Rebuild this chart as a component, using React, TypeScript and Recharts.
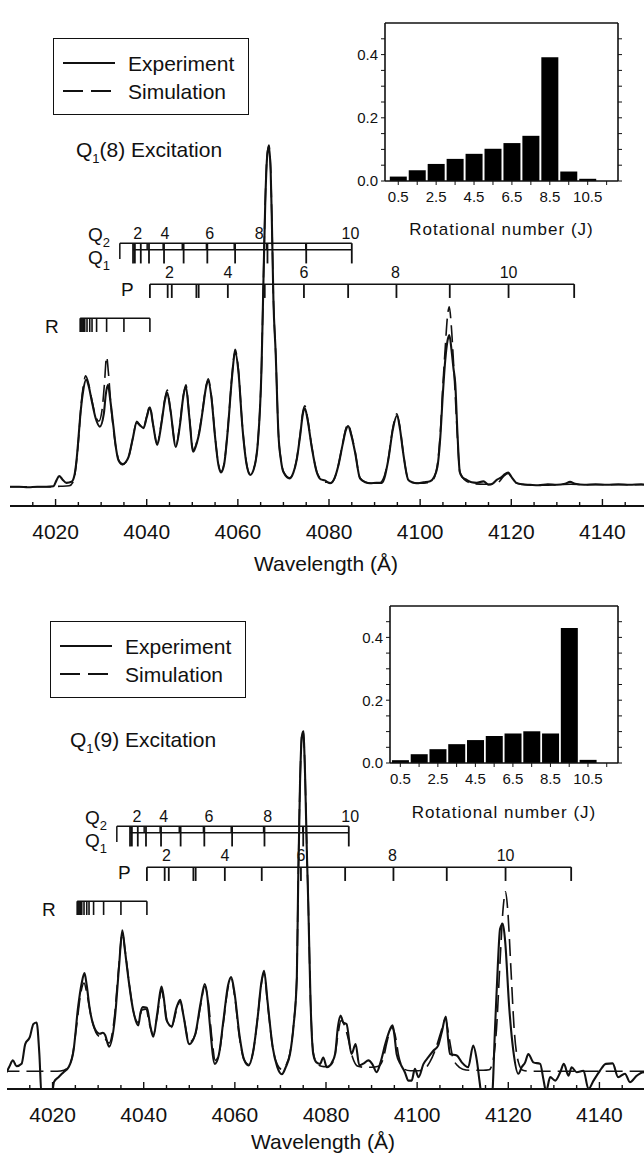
import React from "react";
import {
  LineChart, Line, XAxis, YAxis, ReferenceLine, ReferenceDot,
  BarChart, Bar,
} from "recharts";

const FONT = '"Liberation Sans", Arial, Helvetica, sans-serif';
const INK = "#111";

// wavelength axis (Å)
const WL_TICKS = [
  4015, 4020, 4025, 4030, 4035, 4040, 4045, 4050, 4055, 4060, 4065, 4070, 4075, 4080,
  4085, 4090, 4095, 4100, 4105, 4110, 4115, 4120, 4125, 4130, 4135, 4140, 4145,
];
const WL_LABELS = [4020, 4040, 4060, 4080, 4100, 4120, 4140];

// spectra: [wavelength, intensity]
const EXP_Q8: [number, number][] = [
  [4010, 3.9], [4012, 3.9], [4014, 3.8], [4016, 3.9], [4018, 3.9], [4019.5, 4.0], [4020.2, 5.2],
  [4020.8, 6.1], [4021.5, 5.4], [4022.4, 4.7], [4023.5, 4.9], [4024.2, 6.5], [4024.6, 9.3],
  [4025.0, 13.5], [4025.4, 18.1], [4026.0, 23.0], [4026.7, 25.6], [4027.3, 24.2], [4027.9, 21.5],
  [4028.8, 17.8], [4029.7, 16.1], [4030.6, 18.8], [4031.0, 22.5], [4031.5, 24.6], [4032.0, 21.5],
  [4032.7, 16.1], [4033.3, 11.5], [4033.8, 9.3], [4034.7, 8.5], [4035.4, 8.9], [4036.0, 9.9],
  [4036.9, 13.5], [4037.8, 16.9], [4038.6, 16.3], [4039.3, 15.8], [4040.0, 18.0], [4040.7, 20.0],
  [4041.4, 16.5], [4042.3, 12.4], [4043.2, 16.5], [4044.0, 21.5], [4044.5, 23.0], [4045.2, 19.5],
  [4046.4, 12.0], [4047.3, 16.5], [4048.0, 22.0], [4048.6, 24.2], [4049.3, 18.5], [4050.2, 11.0],
  [4051.0, 12.8], [4051.5, 14.7], [4052.3, 19.5], [4053.0, 24.0], [4053.5, 25.4], [4054.2, 22.0],
  [4055.0, 14.0], [4055.7, 8.5], [4056.3, 6.8], [4057.0, 8.5], [4057.8, 15.5], [4058.7, 26.0],
  [4059.4, 31.3], [4060.1, 27.5], [4061.0, 16.0], [4061.9, 8.5], [4062.7, 6.3], [4063.5, 7.5],
  [4064.4, 13.0], [4065.2, 28.3], [4065.6, 45.0], [4066.0, 61.0], [4066.4, 70.5], [4066.8, 72.9],
  [4067.2, 68.0], [4067.5, 56.0], [4067.8, 42.0], [4068.3, 31.0], [4068.9, 14.7], [4069.5, 9.0],
  [4070.0, 6.9], [4071.4, 5.6], [4072.2, 6.8], [4072.9, 9.3], [4073.7, 14.5], [4074.2, 18.3],
  [4074.7, 19.8], [4075.3, 17.5], [4076.2, 12.0], [4077.3, 6.9], [4078.2, 5.4], [4079.1, 5.2],
  [4080.2, 4.6], [4081.2, 5.6], [4082.0, 8.0], [4083.0, 12.5], [4083.7, 15.4], [4084.2, 16.2],
  [4084.9, 14.3], [4085.7, 11.0], [4086.8, 5.6], [4088.0, 4.8], [4089.0, 4.6], [4090.4, 4.7],
  [4091.6, 4.7], [4093.0, 9.3], [4094.0, 15.5], [4094.9, 18.3], [4095.6, 15.5], [4096.2, 11.3],
  [4097.4, 5.3], [4098.3, 4.8], [4099.2, 4.6], [4100.7, 4.8], [4102.2, 5.0], [4103.0, 5.8],
  [4103.8, 8.0], [4104.5, 15.0], [4104.9, 21.5], [4105.5, 29.5], [4106.0, 33.5], [4106.4, 34.7],
  [4106.9, 31.5], [4107.3, 28.0], [4107.7, 24.9], [4108.2, 14.5], [4108.7, 6.9], [4109.3, 5.8],
  [4110.2, 5.3], [4111.3, 4.8], [4112.4, 4.7], [4113.9, 5.0], [4115.0, 4.3], [4116.0, 4.6],
  [4116.8, 5.3], [4117.8, 5.8], [4118.5, 6.4], [4119.3, 6.8], [4120.1, 5.8], [4121.1, 4.7],
  [4122.5, 4.4], [4124.1, 4.3], [4126.0, 4.2], [4128.0, 4.4], [4130.0, 4.3], [4131.8, 4.5],
  [4132.9, 4.9], [4134.0, 4.5], [4136.0, 4.3], [4138.5, 4.4], [4141.0, 4.3], [4143.5, 4.4],
  [4146.0, 4.3], [4148.5, 4.4], [4150, 4.3],
];

const SIM_Q8: [number, number][] = [
  [4010, 3.9], [4014, 3.9], [4018, 3.9], [4021, 4.0], [4023.0, 4.1], [4023.8, 4.8], [4024.4, 7.5],
  [4025.0, 13.0], [4025.6, 20.5], [4026.2, 25.0], [4026.6, 26.4], [4027.2, 25.0], [4027.9, 21.8],
  [4028.8, 18.2], [4029.5, 17.2], [4030.2, 19.5], [4030.7, 24.5], [4031.2, 30.3], [4031.6, 27.0],
  [4032.1, 21.0], [4032.7, 15.5], [4033.4, 11.0], [4034.0, 9.0], [4034.7, 8.4], [4035.5, 9.0],
  [4036.2, 10.5], [4037.0, 14.0], [4037.8, 17.2], [4038.7, 16.2], [4039.3, 15.9], [4040.0, 18.2],
  [4040.7, 20.3], [4041.4, 16.5], [4042.3, 12.7], [4043.2, 16.8], [4044.0, 21.8], [4044.5, 23.5],
  [4045.2, 19.5], [4046.4, 12.3], [4047.3, 16.8], [4048.0, 22.3], [4048.6, 24.6], [4049.3, 18.8],
  [4050.2, 11.3], [4051.0, 13.0], [4051.5, 15.0], [4052.3, 19.8], [4053.0, 24.3], [4053.5, 25.8],
  [4054.2, 22.3], [4055.0, 14.2], [4055.7, 8.7], [4056.3, 7.0], [4057.0, 8.7], [4057.8, 15.8],
  [4058.7, 26.3], [4059.4, 31.8], [4060.1, 27.8], [4061.0, 16.2], [4061.9, 8.7], [4062.7, 6.5],
  [4063.5, 7.6], [4064.4, 13.2], [4065.2, 28.6], [4065.6, 45.5], [4066.0, 61.5], [4066.4, 71.0],
  [4066.8, 73.2], [4067.2, 68.3], [4067.5, 56.5], [4067.8, 42.2], [4068.3, 31.2], [4068.9, 14.8],
  [4069.5, 9.2], [4070.0, 7.0], [4071.4, 5.7], [4072.2, 6.9], [4072.9, 9.5], [4073.7, 14.8],
  [4074.2, 18.8], [4074.7, 20.3], [4075.3, 17.8], [4076.2, 12.2], [4077.3, 7.0], [4078.2, 5.5],
  [4079.5, 4.8], [4080.5, 4.7], [4081.2, 5.6], [4082.0, 8.1], [4083.0, 12.7], [4083.7, 15.7],
  [4084.2, 16.6], [4084.9, 14.6], [4085.7, 11.2], [4086.8, 5.7], [4088.0, 4.8], [4089.5, 4.6],
  [4091.0, 4.6], [4091.9, 5.5], [4093.0, 9.5], [4094.0, 15.8], [4094.9, 18.7], [4095.6, 15.8],
  [4096.2, 11.5], [4097.4, 5.4], [4098.5, 4.7], [4100.0, 4.6], [4101.5, 4.7], [4102.5, 5.0],
  [4103.2, 6.0], [4103.8, 8.5], [4104.5, 16.0], [4104.9, 23.0], [4105.5, 32.0], [4106.0, 38.5],
  [4106.4, 40.4], [4106.8, 37.0], [4107.3, 29.5], [4107.7, 22.5], [4108.2, 13.5], [4108.7, 7.0],
  [4109.3, 5.8], [4110.2, 5.0], [4112.0, 4.5], [4114.0, 4.4], [4116.0, 4.4], [4117.2, 4.8],
  [4118.3, 6.0], [4119.3, 6.6], [4120.2, 5.6], [4121.2, 4.6], [4123.0, 4.3], [4126.0, 4.2],
  [4130.0, 4.3], [4133.0, 4.4], [4137.0, 4.3], [4142.0, 4.3], [4146.0, 4.3], [4150, 4.3],
];

const EXP_Q9: [number, number][] = [
  [4009.9, 3.4], [4010.5, 4.5], [4011.3, 5.8], [4012.1, 4.6], [4013.2, 5.1], [4014.0, 9.1],
  [4015.0, 10.5], [4015.8, 13.2], [4016.5, 13.5], [4017.1, 7.1], [4017.6, -1.5], [4019.8, -1.5],
  [4020.3, 1.4], [4021.3, 2.4], [4022.4, 3.4], [4023.5, 4.4], [4024.6, 7.8], [4025.6, 16.6],
  [4026.4, 21.5], [4027.0, 23.5], [4027.5, 21.0], [4028.1, 16.6], [4029.3, 12.2], [4030.4, 11.2],
  [4031.0, 11.4], [4031.5, 11.0], [4032.4, 8.6], [4033.7, 14.6], [4034.6, 25.0], [4035.3, 32.2],
  [4035.9, 28.0], [4036.6, 22.7], [4037.7, 15.9], [4038.8, 12.9], [4039.3, 15.5], [4039.8, 16.6],
  [4040.7, 16.5], [4041.4, 13.0], [4042.1, 10.6], [4043.0, 15.5], [4043.9, 20.8], [4044.4, 18.5],
  [4045.0, 14.0], [4046.1, 12.7], [4047.2, 16.5], [4048.0, 18.1], [4048.7, 15.0], [4050.0, 9.1],
  [4051.3, 11.1], [4052.5, 17.5], [4053.4, 21.3], [4054.0, 18.5], [4054.5, 13.2], [4055.6, 5.1],
  [4056.5, 7.0], [4057.5, 14.0], [4058.5, 21.0], [4059.2, 22.7], [4060.0, 19.0], [4061.0, 11.0],
  [4062.0, 6.0], [4063.0, 4.8], [4064.0, 7.5], [4065.0, 14.5], [4065.8, 21.5], [4066.4, 24.0],
  [4067.2, 17.5], [4068.3, 8.5], [4069.3, 4.5], [4070.3, 3.0], [4071.2, 4.5], [4072.1, 7.1],
  [4072.9, 13.0], [4073.6, 22.5], [4073.9, 42.4], [4074.3, 62.0], [4074.7, 71.5], [4075.0, 72.5],
  [4075.4, 64.0], [4075.8, 48.0], [4076.1, 38.0], [4076.6, 18.0], [4077.2, 7.1], [4077.9, 5.4],
  [4078.7, 5.1], [4079.4, 6.4], [4080.2, 4.4], [4081.3, 5.4], [4082.0, 7.1], [4082.6, 12.5],
  [4083.2, 14.9], [4083.8, 13.5], [4084.5, 13.2], [4085.6, 7.1], [4086.5, 9.1], [4087.3, 4.8],
  [4088.3, 5.2], [4089.3, 5.8], [4090.2, 5.0], [4091.1, 3.4], [4092.0, 5.5], [4093.0, 9.1],
  [4093.8, 11.5], [4094.6, 12.9], [4095.0, 11.0], [4095.5, 7.1], [4096.4, 5.0], [4097.3, 3.4],
  [4098.1, 1.7], [4098.8, 1.7], [4099.5, 4.1], [4100.3, 2.4], [4101.4, 5.1], [4102.5, 6.5],
  [4103.6, 7.8], [4104.6, 8.8], [4105.4, 11.5], [4106.3, 14.7], [4106.8, 10.0], [4107.2, 7.1],
  [4108.7, 6.8], [4109.8, 5.4], [4111.2, 4.4], [4112.3, 8.8], [4113.1, 5.8], [4113.7, 1.5],
  [4114.2, -1.5], [4116.4, -1.5], [4117.1, 12.5], [4117.7, 25.0], [4118.2, 32.5], [4118.8, 33.5],
  [4119.3, 30.1], [4120.2, 16.6], [4121.1, 7.8], [4122.2, 3.1], [4123.0, 4.5], [4123.7, 5.4],
  [4124.4, 7.1], [4125.5, 5.4], [4127.0, 5.1], [4127.7, 2.0], [4128.3, -0.5], [4129.2, 2.4],
  [4130.3, 1.7], [4131.4, 3.4], [4132.2, 5.1], [4133.2, 2.7], [4133.9, 4.4], [4135.0, 3.4],
  [4136.5, 3.7], [4137.6, 0], [4138.7, 1.7], [4140.1, 3.7], [4141.4, 5.1], [4142.9, 5.2],
  [4144.1, 2.4], [4145.6, 3.1], [4146.7, 1.4], [4148.2, 2.7], [4149.6, 3.4], [4150.5, 3.0],
];

const SIM_Q9: [number, number][] = [
  [4009, 3.6], [4013, 3.6], [4017, 3.6], [4021, 3.6], [4022.5, 3.8], [4023.5, 4.6], [4024.3, 6.5],
  [4025.3, 13.0], [4026.2, 19.5], [4026.9, 21.5], [4027.6, 19.0], [4028.5, 14.5], [4029.5, 11.5],
  [4030.5, 10.5], [4031.5, 10.2], [4032.4, 9.3], [4033.5, 14.0], [4034.5, 24.5], [4035.3, 31.5],
  [4036.0, 27.5], [4036.8, 21.5], [4037.8, 15.5], [4038.8, 13.5], [4039.6, 16.0], [4040.5, 16.2],
  [4041.3, 13.0], [4042.1, 11.0], [4043.0, 15.0], [4043.9, 20.0], [4044.5, 17.5], [4045.2, 13.5],
  [4046.1, 12.5], [4047.2, 16.0], [4048.0, 17.8], [4048.8, 14.5], [4050.0, 9.5], [4051.3, 11.0],
  [4052.5, 17.0], [4053.4, 20.8], [4054.2, 17.5], [4055.0, 10.0], [4055.7, 5.8], [4056.5, 7.0],
  [4057.5, 13.5], [4058.5, 20.5], [4059.2, 22.3], [4060.0, 18.5], [4061.0, 10.5], [4062.0, 6.0],
  [4063.0, 5.0], [4064.0, 7.5], [4065.0, 14.5], [4065.8, 21.2], [4066.4, 23.5], [4067.2, 17.0],
  [4068.3, 8.5], [4069.3, 5.0], [4070.3, 4.0], [4071.2, 4.8], [4072.1, 7.3], [4072.9, 13.2],
  [4073.6, 22.8], [4073.9, 42.6], [4074.3, 62.3], [4074.7, 71.8], [4075.0, 72.7], [4075.4, 64.3],
  [4075.8, 48.3], [4076.1, 38.2], [4076.6, 18.2], [4077.2, 7.5], [4078.0, 5.2], [4079.0, 4.6],
  [4080.0, 4.5], [4081.2, 5.0], [4082.0, 7.0], [4082.7, 11.5], [4083.3, 13.9], [4084.0, 13.0],
  [4084.8, 10.5], [4085.8, 6.5], [4087.0, 4.6], [4088.5, 4.4], [4090.0, 4.4], [4091.5, 4.6],
  [4092.5, 6.0], [4093.5, 10.0], [4094.4, 12.5], [4095.2, 10.8], [4096.0, 6.5], [4097.2, 4.0],
  [4098.5, 3.7], [4100.0, 3.7], [4101.5, 4.0], [4102.8, 5.5], [4104.0, 8.0], [4105.2, 11.5],
  [4106.2, 14.2], [4107.0, 10.5], [4107.8, 6.5], [4108.8, 4.8], [4110.0, 4.0], [4111.5, 3.8],
  [4113.0, 3.8], [4114.5, 3.8], [4115.8, 3.9], [4116.6, 5.5], [4117.4, 12.0], [4118.2, 26.0],
  [4118.9, 37.0], [4119.4, 40.0], [4119.9, 36.0], [4120.6, 24.0], [4121.3, 12.0], [4122.2, 5.5],
  [4123.2, 3.8], [4125.0, 3.6], [4130, 3.6], [4135, 3.6], [4140, 3.6], [4145, 3.6], [4150.5, 3.6],
];

// branch assignments (Å)
const Q1_LINES = [4037.0, 4037.4, 4038.7, 4040.5, 4043.8, 4048.1, 4053.3, 4059.4, 4066.5, 4075.0, 4085.0];
const Q2_LINES = [4037.3, 4040.1, 4043.6, 4047.8, 4053.1, 4059.2, 4066.3, 4074.9];
const Q2_START = 4034.1;
const P_LINES = [4040.7, 4044.6, 4045.5, 4050.9, 4051.4, 4057.8, 4065.9, 4074.5, 4084.2, 4094.8, 4106.5, 4119.4, 4133.8];
const R_LINES = [4025.4, 4025.6, 4025.8, 4026.0, 4026.2, 4026.4, 4026.9, 4027.5, 4028.0, 4029.0, 4031.2, 4035.0, 4040.7];
const J_MARKS = ["2", "4", "6", "8", "10"];
const Q_MARKS_Q8 = [4038.0, 4044.0, 4053.8, 4064.7, 4084.7];
const Q_MARKS_Q9 = [4038.5, 4044.4, 4054.3, 4067.2, 4085.3];
const P_MARKS = [4045.0, 4057.8, 4074.5, 4094.6, 4119.4];

// rotational populations (insets)
const J_LEVELS = [0.5, 1.5, 2.5, 3.5, 4.5, 5.5, 6.5, 7.5, 8.5, 9.5, 10.5];
const POP_Q8 = [0.014, 0.034, 0.054, 0.070, 0.086, 0.102, 0.120, 0.143, 0.392, 0.030, 0.007];
const POP_Q9 = [0.009, 0.028, 0.044, 0.060, 0.073, 0.086, 0.094, 0.101, 0.094, 0.430, 0.010];
const J_TICKS = [0.5, 1.5, 2.5, 3.5, 4.5, 5.5, 6.5, 7.5, 8.5, 9.5, 10.5, 11.5];
const J_LABELS = [0.5, 2.5, 4.5, 6.5, 8.5, 10.5];
const POP_TICKS = [0, 0.05, 0.1, 0.15, 0.2, 0.25, 0.3, 0.35, 0.4, 0.45];
const POP_LABELS = [0, 0.2, 0.4];

// ladder heights in intensity units
const Y_Q2 = 53.3, Y_Q1 = 52.0, Y_P = 45.0, Y_R = 38.1, TICK = 2.8;

function BottomTick({ x, y, payload }: any) {
  const major = WL_LABELS.includes(payload.value);
  return (
    <g>
      <line x1={x} x2={x} y1={y} y2={y - (major ? 7 : 4)} stroke={INK} strokeWidth={1.4} />
      {major && (
        <text x={x} y={y + 25} textAnchor="middle" dominantBaseline="central"
          fontSize={21} fill={INK} fontFamily={FONT}>{payload.value}</text>
      )}
    </g>
  );
}

function TopTick({ x, y, payload }: any) {
  const major = WL_LABELS.includes(payload.value);
  return <line x1={x} x2={x} y1={y} y2={y + (major ? 6 : 4)} stroke={INK} strokeWidth={1.4} />;
}

function seg(key: string, x1: number, y1: number, x2: number, y2: number, w = 1.5) {
  return (
    <ReferenceLine key={key} segment={[{ x: x1, y: y1 }, { x: x2, y: y2 }]}
      stroke={INK} strokeWidth={w} />
  );
}

function mark(key: string, x: number, y: number, text: string) {
  return (
    <ReferenceDot key={key} x={x} y={y} r={1}
      shape={(p: any) => (
        <text x={p.cx} y={p.cy} textAnchor="middle" dominantBaseline="central"
          fontSize={16} fill={INK} fontFamily={FONT}>{text}</text>
      )} />
  );
}

function ladders(qMarks: number[]) {
  const out: React.ReactNode[] = [];
  // Q2
  out.push(seg("q2", Q2_START, Y_Q2, Q1_LINES[Q1_LINES.length - 1], Y_Q2));
  out.push(seg("q2s", Q2_START, Y_Q2, Q2_START, Y_Q2 - 3.2));
  Q2_LINES.forEach((w, i) => out.push(seg("q2t" + i, w, Y_Q2, w, Y_Q1)));
  // Q1
  out.push(seg("q1", Q1_LINES[0], Y_Q1, Q1_LINES[Q1_LINES.length - 1], Y_Q1));
  Q1_LINES.forEach((w, i) => out.push(seg("q1t" + i, w, Y_Q2, w, Y_Q1 - TICK, 1.8)));
  // P
  out.push(seg("p", P_LINES[0], Y_P, P_LINES[P_LINES.length - 1], Y_P));
  P_LINES.forEach((w, i) => out.push(seg("pt" + i, w, Y_P, w, Y_P - TICK, 1.8)));
  // R
  out.push(seg("r", R_LINES[0], Y_R, R_LINES[R_LINES.length - 1], Y_R));
  R_LINES.forEach((w, i) => out.push(seg("rt" + i, w, Y_R, w, Y_R - TICK, 1.6)));
  qMarks.forEach((w, i) => out.push(mark("qm" + i, w, 55.3, J_MARKS[i])));
  P_MARKS.forEach((w, i) => out.push(mark("pm" + i, w, 47.4, J_MARKS[i])));
  return out;
}

interface InsetProps {
  pops: number[];
  domain: [number, number];
  left: number;
  width: number;
  height: number;
}

function Inset({ pops, domain, left, width, height }: InsetProps) {
  const rows = J_LEVELS.map((j, i) => ({ j, p: pops[i] }));
  const axis = { stroke: INK, strokeWidth: 1.6 };
  const tickText = { fontSize: 15, fill: INK, fontFamily: FONT };
  return (
    <div style={{ position: "absolute", left: left - 40, top: 21 }}>
      <BarChart width={40 + width + 12} height={2 + height + 30} data={rows}
        margin={{ top: 2, right: 2, bottom: 0, left: 0 }}>
        <XAxis dataKey="j" type="number" domain={domain} allowDataOverflow ticks={J_TICKS}
          interval={0} height={30} tickSize={4} tickMargin={6} axisLine={axis}
          tickLine={{ stroke: INK }} tick={tickText}
          tickFormatter={(v: number) => (J_LABELS.includes(v) ? v.toFixed(1) : "")} />
        <YAxis domain={[0, 0.5]} allowDataOverflow ticks={POP_TICKS} interval={0} width={40}
          tickSize={4} tickMargin={3} axisLine={axis} tickLine={{ stroke: INK }} tick={tickText}
          tickFormatter={(v: number) => (POP_LABELS.includes(v) ? v.toFixed(1) : "")} />
        <YAxis yAxisId="r" orientation="right" domain={[0, 0.5]} allowDataOverflow
          ticks={POP_TICKS} interval={0} width={10} tickSize={4} axisLine={axis}
          tickLine={{ stroke: INK }} tickFormatter={() => ""} />
        <ReferenceLine y={0.5} stroke={INK} strokeWidth={1.6} />
        <Bar dataKey="p" fill="#000" barSize={17} isAnimationActive={false} />
      </BarChart>
    </div>
  );
}

interface PanelProps {
  top: number;
  shift: number;
  exp: [number, number][];
  sim: [number, number][];
  level: string;
  titleLeft: number;
  titleTop: number;
  wlTop: number;
  qMarks: number[];
  pops: number[];
  jDomain: [number, number];
  insetLeft: number;
  insetWidth: number;
  insetHeight: number;
}

function Panel(p: PanelProps) {
  const expRows = p.exp.map(([w, v]) => ({ w, v }));
  const simRows = p.sim.map(([w, v]) => ({ w, v }));
  const letter = { position: "absolute" as const, fontSize: 19, lineHeight: "19px", color: INK };
  const sub = { fontSize: 13, position: "relative" as const, top: 6 };
  return (
    <div style={{ position: "absolute", left: p.shift, top: p.top, width: 660, height: 583 }}>
      <LineChart width={660} height={583} margin={{ top: 13, right: 12, bottom: 17, left: 10 }}>
        <XAxis dataKey="w" type="number" domain={[4010, 4150]} allowDataOverflow ticks={WL_TICKS}
          interval={0} height={60} tickSize={0} tickMargin={0} tickLine={false}
          axisLine={{ stroke: INK, strokeWidth: 2.2 }} tick={<BottomTick />} />
        <XAxis xAxisId="top" orientation="top" dataKey="w" type="number" domain={[4010, 4150]}
          allowDataOverflow ticks={WL_TICKS} interval={0} height={0} tickSize={0} tickMargin={0}
          tickLine={false} axisLine={{ stroke: INK, strokeWidth: 1.8 }} tick={<TopTick />} />
        <YAxis type="number" domain={[0, 100]} allowDataOverflow width={0} tick={false}
          tickLine={false} axisLine={{ stroke: INK, strokeWidth: 1.8 }} />
        {ladders(p.qMarks)}
        <Line data={simRows} dataKey="v" type="monotone" stroke={INK} strokeWidth={1.6}
          strokeDasharray="17 7" dot={false} isAnimationActive={false} />
        <Line data={expRows} dataKey="v" type="monotone" stroke={INK} strokeWidth={2.1}
          dot={false} isAnimationActive={false} />
      </LineChart>

      {/* legend */}
      <div style={{ position: "absolute", left: 53, top: 38, width: 196, height: 77,
        border: `1.6px solid ${INK}`, boxSizing: "border-box" }}>
        <svg width={196} height={77} style={{ position: "absolute", left: 0, top: 0 }}>
          <line x1={9} x2={61} y1={24} y2={24} stroke={INK} strokeWidth={2} />
          <line x1={9} x2={58} y1={52} y2={52} stroke={INK} strokeWidth={2} strokeDasharray="20 8" />
          <text x={74} y={24} dominantBaseline="central" fontSize={21} fill={INK} fontFamily={FONT}>Experiment</text>
          <text x={74} y={52} dominantBaseline="central" fontSize={21} fill={INK} fontFamily={FONT}>Simulation</text>
        </svg>
      </div>

      <div style={{ position: "absolute", left: p.titleLeft, top: p.titleTop - 12, fontSize: 21,
        lineHeight: "24px", color: INK, whiteSpace: "nowrap" }}>
        Q<span style={sub}>1</span>({p.level}) Excitation
      </div>

      <div style={{ ...letter, left: 88, top: 225 }}>Q<span style={sub}>2</span></div>
      <div style={{ ...letter, left: 88, top: 248 }}>Q<span style={sub}>1</span></div>
      <div style={{ ...letter, left: 121, top: 280 }}>P</div>
      <div style={{ ...letter, left: 45, top: 317 }}>R</div>

      <Inset pops={p.pops} domain={p.jDomain} left={p.insetLeft} width={p.insetWidth}
        height={p.insetHeight} />
      <div style={{ position: "absolute", left: p.insetLeft - 20, width: p.insetWidth + 40,
        top: 219, fontSize: 17, letterSpacing: 1, lineHeight: "22px", textAlign: "center",
        color: INK }}>
        Rotational number (J)
      </div>

      <div style={{ position: "absolute", left: 226, width: 200, top: p.wlTop, fontSize: 21,
        lineHeight: "20px", textAlign: "center", color: INK }}>
        Wavelength (Å)
      </div>
    </div>
  );
}

export default function App() {
  return (
    <div style={{ position: "relative", width: 644, height: 1155, overflow: "hidden",
      background: "#fff", fontFamily: FONT }}>
      <style>{"body{margin:0;overflow:hidden}"}</style>
      <Panel top={0} shift={0} exp={EXP_Q8} sim={SIM_Q8} level="8" titleLeft={76} titleTop={150}
        wlTop={554} qMarks={Q_MARKS_Q8} pops={POP_Q8} jDomain={[-0.2, 12.1]} insetLeft={385}
        insetWidth={233} insetHeight={158} />
      <Panel top={583} shift={-3} exp={EXP_Q9} sim={SIM_Q9} level="9" titleLeft={73} titleTop={157}
        wlTop={549} qMarks={Q_MARKS_Q9} pops={POP_Q9} jDomain={[-0.05, 12.1]} insetLeft={393}
        insetWidth={228} insetHeight={157} />
    </div>
  );
}
